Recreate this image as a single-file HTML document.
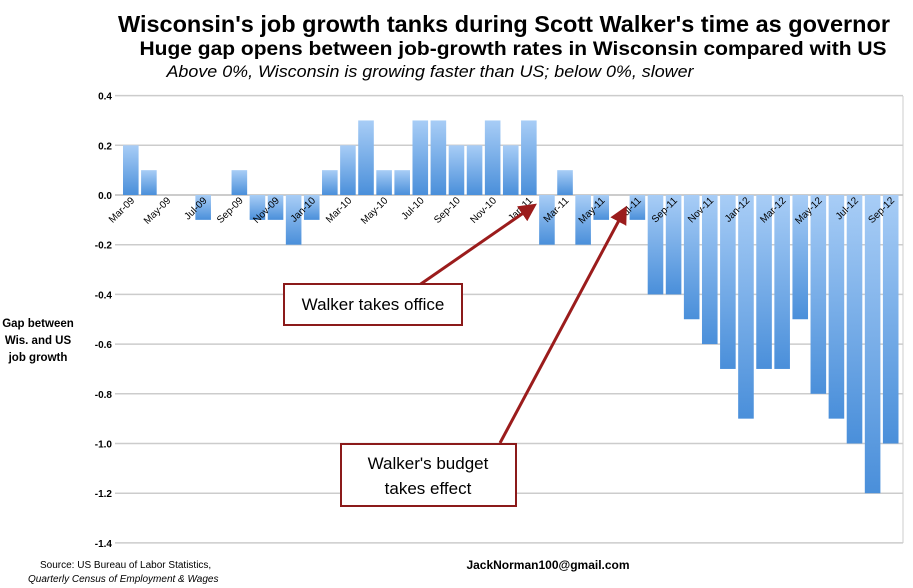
<!DOCTYPE html>
<html><head><meta charset="utf-8"><style>
body{margin:0;background:#fff;width:913px;height:588px;overflow:hidden;font-family:"Liberation Sans",sans-serif}
</style></head><body>
<svg width="913" height="588" style="position:absolute;left:0;top:0">
<defs>
<linearGradient id="g" x1="0" y1="0" x2="0" y2="1"><stop offset="0" stop-color="#a8cdf6"/><stop offset="1" stop-color="#4a8fda"/></linearGradient>
<marker id="ah" markerWidth="6" markerHeight="6" refX="4" refY="3" orient="auto"><path d="M0,0 L6,3 L0,6 Z" fill="#9b1c1c"/></marker>
</defs>
<text x="504" y="32" text-anchor="middle" font-size="23.5" font-weight="bold" textLength="772" lengthAdjust="spacingAndGlyphs">Wisconsin's job growth tanks during Scott Walker's time as governor</text>
<text x="513" y="55" text-anchor="middle" font-size="19" font-weight="bold" textLength="747" lengthAdjust="spacingAndGlyphs">Huge gap opens between job-growth rates in Wisconsin compared with US</text>
<text x="430" y="77" text-anchor="middle" font-size="17" font-style="italic" textLength="527" lengthAdjust="spacingAndGlyphs">Above 0%, Wisconsin is growing faster than US; below 0%, slower</text>
<line x1="903" y1="96" x2="903" y2="543" stroke="#ccc"/>
<g id="grid"></g><g id="bars"></g><g id="xl"></g>
<g font-size="11.5" font-weight="bold" text-anchor="middle">
<text x="38" y="327">Gap between</text><text x="38" y="344">Wis. and US</text><text x="38" y="361">job growth</text></g>
<line x1="415" y1="288" x2="532" y2="207" stroke="#9b1c1c" stroke-width="3" marker-end="url(#ah)"/>
<line x1="500" y1="443" x2="624" y2="211" stroke="#9b1c1c" stroke-width="3" marker-end="url(#ah)"/>
<rect x="284" y="284" width="178" height="41" fill="#fff" stroke="#8b1a1a" stroke-width="2"/>
<text x="373" y="310" text-anchor="middle" font-size="17">Walker takes office</text>
<rect x="341" y="444" width="175" height="62" fill="#fff" stroke="#8b1a1a" stroke-width="2"/>
<text x="428" y="469" text-anchor="middle" font-size="17">Walker's budget</text>
<text x="428" y="494" text-anchor="middle" font-size="17">takes effect</text>
<text x="40" y="568" font-size="10">Source: US Bureau of Labor Statistics,</text>
<text x="28" y="582" font-size="10" font-style="italic">Quarterly Census of Employment &amp; Wages</text>
<text x="548" y="569" text-anchor="middle" font-size="12" font-weight="bold">JackNorman100@gmail.com</text>
</svg>
<script>
const months=["Mar-09","Apr-09","May-09","Jun-09","Jul-09","Aug-09","Sep-09","Oct-09","Nov-09","Dec-09","Jan-10","Feb-10","Mar-10","Apr-10","May-10","Jun-10","Jul-10","Aug-10","Sep-10","Oct-10","Nov-10","Dec-10","Jan-11","Feb-11","Mar-11","Apr-11","May-11","Jun-11","Jul-11","Aug-11","Sep-11","Oct-11","Nov-11","Dec-11","Jan-12","Feb-12","Mar-12","Apr-12","May-12","Jun-12","Jul-12","Aug-12","Sep-12"];
const gaps=[0.2,0.1,0,0,-0.1,0,0.1,-0.1,-0.1,-0.2,-0.1,0.1,0.2,0.3,0.1,0.1,0.3,0.3,0.2,0.2,0.3,0.2,0.3,-0.2,0.1,-0.2,-0.1,0,-0.1,-0.4,-0.4,-0.5,-0.6,-0.7,-0.9,-0.7,-0.7,-0.5,-0.8,-0.9,-1.0,-1.2,-1.0];
const yTicks=[0.4,0.2,0,-0.2,-0.4,-0.6,-0.8,-1.0,-1.2,-1.4];
const NS="http://www.w3.org/2000/svg";
const X0=122,X1=900,Y0=195,UNIT=248.5;
const pitch=(X1-X0)/months.length;
const y=v=>Y0-v*UNIT;
const x=i=>X0+i*pitch;
const grid=document.getElementById('grid'),bars=document.getElementById('bars'),xl=document.getElementById('xl');
function mk(t,a,p){const e=document.createElementNS(NS,t);for(const k in a)e.setAttribute(k,a[k]);p.appendChild(e);return e;}
yTicks.forEach(v=>{
 const l=mk('line',{x1:115,x2:X1+3,y1:y(v),y2:y(v),stroke:v===0?'#bbb':'#ccc','stroke-width':1.5},grid);
 
 
 const t=mk('text',{x:112,y:y(v)+4,'text-anchor':'end','font-size':10,'font-weight':'bold'},grid);
 t.textContent=v===0?'0.0':v.toFixed(1);
 
 
});
gaps.forEach((v,i)=>{
 if(v===0)return;
 const top=Math.min(y(v),Y0),h=Math.abs(y(v)-Y0);
 const r=mk('rect',{x:x(i)+1,y:top,width:pitch-2.5,height:h,fill:'url(#g)'},bars);
 
 
});
months.forEach((m,i)=>{
 if(i%2)return;
 const cx=x(i)+pitch/2+4,cy=Y0+6;
 const t=mk('text',{x:cx,y:cy,'text-anchor':'end','font-size':10,transform:`rotate(-45 ${cx} ${cy})`},xl);
 t.textContent=m;
 
 
});
</script>
</body></html>
